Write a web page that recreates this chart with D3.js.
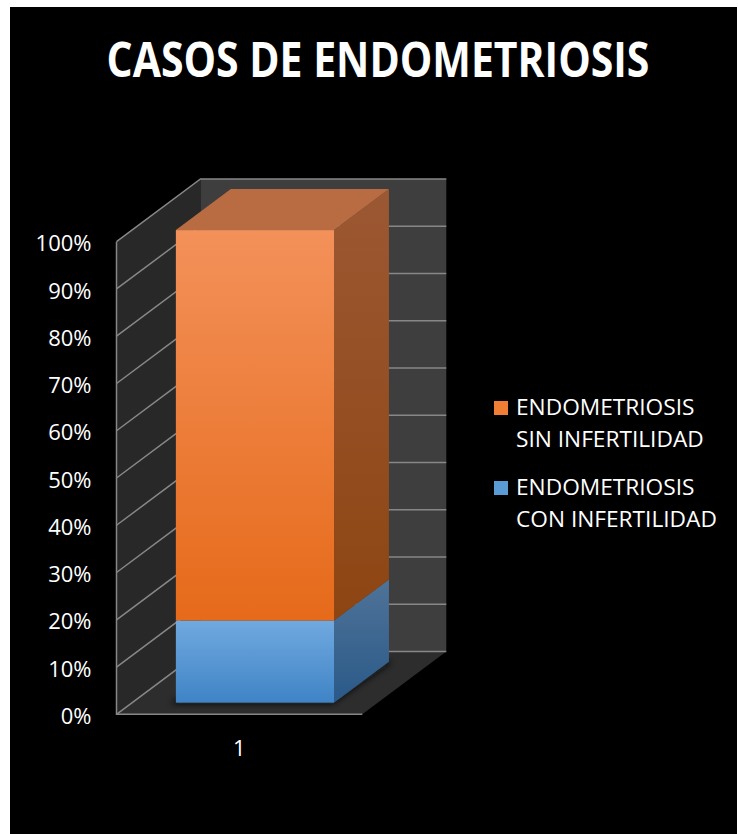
<!DOCTYPE html>
<html>
<head>
<meta charset="utf-8">
<script src="https://cdn.jsdelivr.net/npm/d3@7"></script>
<style>
	body { margin: 0; background: #fff; }
	svg { display: block; }
	text { font-family: "Open Sans", "DejaVu Sans", sans-serif; fill: #fff; }
</style>
</head>
<body>
<svg id="chart" width="738" height="834"></svg>
<script>
// data (percent of cases)
const categories = ['1']
const conInfertilidad = [17.4]
const sinInfertilidad = [82.6]
const seriesKeys = ['con', 'sin']
const legendLabels = {
	sin: ['ENDOMETRIOSIS', 'SIN INFERTILIDAD'],
	con: ['ENDOMETRIOSIS', 'CON INFERTILIDAD']
}
const yTicks = [0, 10, 20, 30, 40, 50, 60, 70, 80, 90, 100]
const title = 'CASOS DE ENDOMETRIOSIS'

// layout
const FLOOR_X0 = 116.5, FLOOR_X1 = 362.3
const Y0 = 714.3, Y100 = 241.7
const DX = 84, DY = -62.7          // depth offset of the back wall
const Z0 = 0.185, Z1 = 0.839       // bar depth range

const svg = d3.select('#chart')

svg.append('rect')
	.attr('x', 10).attr('y', 7)
	.attr('width', 727).attr('height', 827)
	.attr('fill', '#000')

const x = d3.scaleBand()
	.domain(categories)
	.range([FLOOR_X0, FLOOR_X1])
	.padding(0.217)

const y = d3.scaleLinear()
	.domain([0, 100])
	.range([Y0, Y100])

const proj = (px, v, z) => [px + z * DX, y(v) + z * DY]
const poly = pts => pts.map(p => p.join(',')).join(' ')

const defs = svg.append('defs')
const grad = (id, top, bottom) => {
	const g = defs.append('linearGradient')
		.attr('id', id).attr('x1', 0).attr('y1', 0).attr('x2', 0).attr('y2', 1)
	g.append('stop').attr('offset', 0).attr('stop-color', top)
	g.append('stop').attr('offset', 1).attr('stop-color', bottom)
}
grad('sinFront', '#f3915a', '#e66a1a')
grad('sinSide', '#9c5833', '#8d4512')
grad('conFront', '#71a9e0', '#3f84c6')
grad('conSide', '#4f7398', '#2a5988')
defs.append('filter').attr('id', 'blur')
	.append('feGaussianBlur').attr('stdDeviation', 3)

const colors = {
	sin: { front: 'url(#sinFront)', side: 'url(#sinSide)', top: '#b96b41', key: '#f07f35' },
	con: { front: 'url(#conFront)', side: 'url(#conSide)', top: '#6fa3d6', key: '#5b9bd5' }
}

// walls and floor
const walls = svg.append('g')
walls.append('polygon')
	.attr('points', poly([proj(FLOOR_X0, 0, 0), proj(FLOOR_X0, 100, 0), proj(FLOOR_X0, 100, 1), proj(FLOOR_X0, 0, 1)]))
	.attr('fill', '#282828')
walls.append('polygon')
	.attr('points', poly([proj(FLOOR_X0, 0, 1), proj(FLOOR_X0, 100, 1), proj(FLOOR_X1, 100, 1), proj(FLOOR_X1, 0, 1)]))
	.attr('fill', '#3e3e3e')
walls.append('polygon')
	.attr('points', poly([proj(FLOOR_X0, 0, 0), proj(FLOOR_X1, 0, 0), proj(FLOOR_X1, 0, 1), proj(FLOOR_X0, 0, 1)]))
	.attr('fill', '#2d2d2d')

walls.selectAll('polyline.grid')
	.data(yTicks)
	.join('polyline')
	.attr('class', 'grid')
	.attr('points', t => poly([proj(FLOOR_X0, t, 0), proj(FLOOR_X0, t, 1), proj(FLOOR_X1, t, 1)]))
	.attr('fill', 'none')
	.attr('stroke', '#878787')
	.attr('stroke-width', 1.5)

walls.append('polyline')
	.attr('points', poly([proj(FLOOR_X0, 100, 0), proj(FLOOR_X0, 0, 0), proj(FLOOR_X1, 0, 0)]))
	.attr('fill', 'none')
	.attr('stroke', '#878787')
	.attr('stroke-width', 1.5)

// stacked bar
const rows = categories.map((c, i) => ({ cat: c, con: conInfertilidad[i], sin: sinInfertilidad[i] }))
const stacked = d3.stack().keys(seriesKeys)(rows)

const bars = svg.append('g')
rows.forEach(r => {
	const bx0 = x(r.cat), bx1 = x(r.cat) + x.bandwidth()
	bars.append('polygon')
		.attr('points', poly([proj(bx0 - 4, 0, Z0 - 0.02), proj(bx1, 0, Z0 - 0.02), proj(bx1 + 4, 0, Z1), proj(bx0, 0, Z1)]))
		.attr('fill', '#0c0c0c')
		.attr('opacity', 0.8)
		.attr('filter', 'url(#blur)')
})

stacked.forEach((layer, li) => {
	const k = layer.key
	layer.forEach(d => {
		const bx0 = x(d.data.cat), bx1 = x(d.data.cat) + x.bandwidth()
		const [v0, v1] = d
		bars.append('polygon')
			.attr('points', poly([proj(bx1, v0, Z0), proj(bx1, v1, Z0), proj(bx1, v1, Z1), proj(bx1, v0, Z1)]))
			.attr('fill', colors[k].side)
		if (li === stacked.length - 1) {
			bars.append('polygon')
				.attr('points', poly([proj(bx0, v1, Z0), proj(bx1, v1, Z0), proj(bx1, v1, Z1), proj(bx0, v1, Z1)]))
				.attr('fill', colors[k].top)
		}
		const [fx0, fy1] = proj(bx0, v1, Z0)
		const [fx1, fy0] = proj(bx1, v0, Z0)
		bars.append('rect')
			.attr('x', fx0).attr('y', fy1)
			.attr('width', fx1 - fx0).attr('height', fy0 - fy1)
			.attr('fill', colors[k].front)
	})
})

// axes
const yAxis = svg.append('g')
	.attr('transform', `translate(${FLOOR_X0},2)`)
	.call(d3.axisLeft(y).tickValues(yTicks).tickFormat(d => d + '%').tickSize(0).tickPadding(25))
yAxis.select('.domain').remove()
yAxis.selectAll('text')
	.attr('fill', '#fff')
	.style('font-family', '"Open Sans", sans-serif')
	.style('font-size', '22px')

const xAxis = svg.append('g')
	.attr('transform', `translate(0,${Y0})`)
	.call(d3.axisBottom(x).tickSize(0).tickPadding(26))
xAxis.select('.domain').remove()
xAxis.selectAll('text')
	.attr('fill', '#fff')
	.style('font-family', '"Open Sans", sans-serif')
	.style('font-size', '22px')

// title, squeezed horizontally to the reference width
const titleG = svg.append('g')
const titleText = titleG.append('text')
	.attr('text-anchor', 'middle')
	.attr('font-size', 48)
	.attr('font-weight', 'bold')
	.text(title)
const tw = titleText.node().getComputedTextLength()
titleG.attr('transform', `translate(378,77) scale(${543 / tw},1)`)

// legend
const STRETCH = 1.08
const legend = svg.append('g').attr('transform', 'translate(494,401)')
const legendOrder = ['sin', 'con']
legendOrder.forEach((k, i) => {
	const item = legend.append('g').attr('transform', `translate(0,${i * 80})`)
	item.append('rect')
		.attr('width', 14).attr('height', 14)
		.attr('fill', colors[k].key)
	legendLabels[k].forEach((line, j) => {
		const t = item.append('text')
			.attr('x', 22).attr('y', 14 + j * 31.7)
			.attr('font-size', 21)
			.text(line)
		const w = t.node().getComputedTextLength()
		t.attr('textLength', w * STRETCH).attr('lengthAdjust', 'spacingAndGlyphs')
	})
})
</script>
</body>
</html>
